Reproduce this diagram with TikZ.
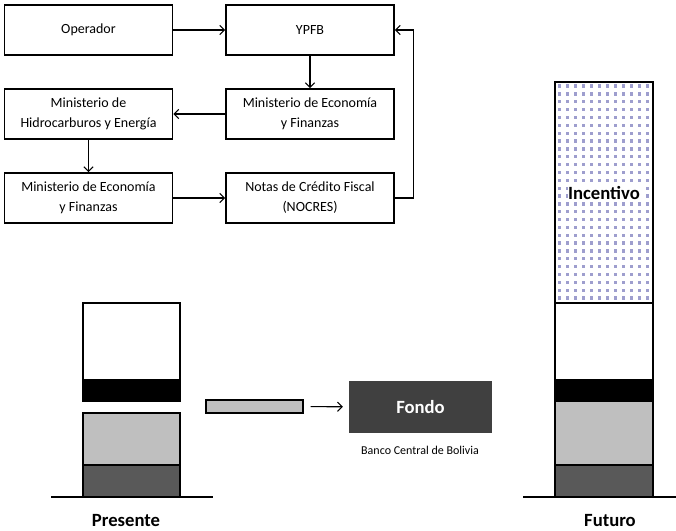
\documentclass[tikz,border=0pt]{standalone}
\usepackage{fontspec}
\setmainfont{Carlito}
\usetikzlibrary{arrows.meta, positioning}

\definecolor{lightbar}{RGB}{191,191,191}
\definecolor{darkbar}{RGB}{89,89,89}
\definecolor{fondogray}{RGB}{64,64,64}
\definecolor{dotblue}{RGB}{158,158,206}

\begin{document}
\begin{tikzpicture}[
    x=0.75pt, y=-0.75pt,
    block/.style={rectangle, draw, line width=1.3pt, align=center, inner sep=0pt,
        minimum width=126pt, minimum height=37.5pt, font=\fontsize{10.5}{15}\selectfont},
    arrow/.style={->, >={Straight Barb[length=3.5pt, width=7pt]}, line width=0.8pt},
    bar/.style={draw, line width=0.9pt},
    label/.style={font=\fontsize{14}{16}\selectfont\bfseries}
]

\useasboundingbox (0,0) rectangle (676,531);


\node[block] (operador_block) at (88.5,30) {Operador};
\node[block] (ypfb_block) at (310,30) {YPFB};
\node[block] (mef_top_block) at (310,114) {Ministerio de Economía\\y Finanzas};
\node[block] (mhe_block) at (88.5,114) {Ministerio de\\Hidrocarburos y Energía};
\node[block] (mef_bottom_block) at (88.5,198) {Ministerio de Economía\\y Finanzas};
\node[block] (nocres_block) at (310,198) {Notas de Crédito Fiscal\\(NOCRES)};


\draw[arrow] (operador_block) -- (ypfb_block);
\draw[arrow] (ypfb_block) -- (mef_top_block);
\draw[arrow] (mef_top_block) -- (mhe_block);
\draw[arrow] (mhe_block) -- (mef_bottom_block);
\draw[arrow] (mef_bottom_block) -- (nocres_block);
\draw[arrow] (nocres_block.east) -- ([xshift=14.25pt]nocres_block.east) |- (ypfb_block.east);


\draw[bar, fill=white] (83,303) rectangle (180,380);
\draw[bar, fill=black] (83,380) rectangle (180,401);
\draw[bar, fill=lightbar] (83,413) rectangle (180,465);
\draw[bar, fill=darkbar] (83,465) rectangle (180,497);
\draw[line width=1.2pt] (51,497) -- (213,497);
\node[label] (presente_label) at (126,521) {Presente};


\node[bar, fill=lightbar, minimum width=72.75pt, minimum height=9.75pt, inner sep=0pt] (small_bar) at (254.5,406.5) {};
\node[fill=fondogray, text=white, label, minimum width=107pt, minimum height=39pt, inner sep=0pt] (fondo_block) at (420.5,407) {Fondo};
\node[font=\fontsize{9}{11}\selectfont] (banco_label) at (420,450) {Banco Central de Bolivia};
\draw[arrow, shorten <=5.25pt, shorten >=4.5pt] (small_bar) -- (fondo_block);


\draw[bar, fill=white] (555,82) rectangle (653,303);
\foreach \i in {0,...,11}
    \foreach \j in {0,...,27}
        \fill[dotblue] ({557.5+8*\i},{84.5+7.85*\j}) rectangle +(3.3,3.3);
\draw[bar] (555,82) rectangle (653,303);
\node[label, fill=white, inner sep=0.5pt] (incentivo_label) at (604,193) {Incentivo};
\draw[bar, fill=white] (555,303) rectangle (653,380);
\draw[bar, fill=black] (555,380) rectangle (653,401);
\draw[bar, fill=lightbar] (555,401) rectangle (653,465);
\draw[bar, fill=darkbar] (555,465) rectangle (653,497);
\draw[line width=1.2pt] (523,497) -- (676,497);
\node[label] (futuro_label) at (610,521) {Futuro};

\end{tikzpicture}
\end{document}
